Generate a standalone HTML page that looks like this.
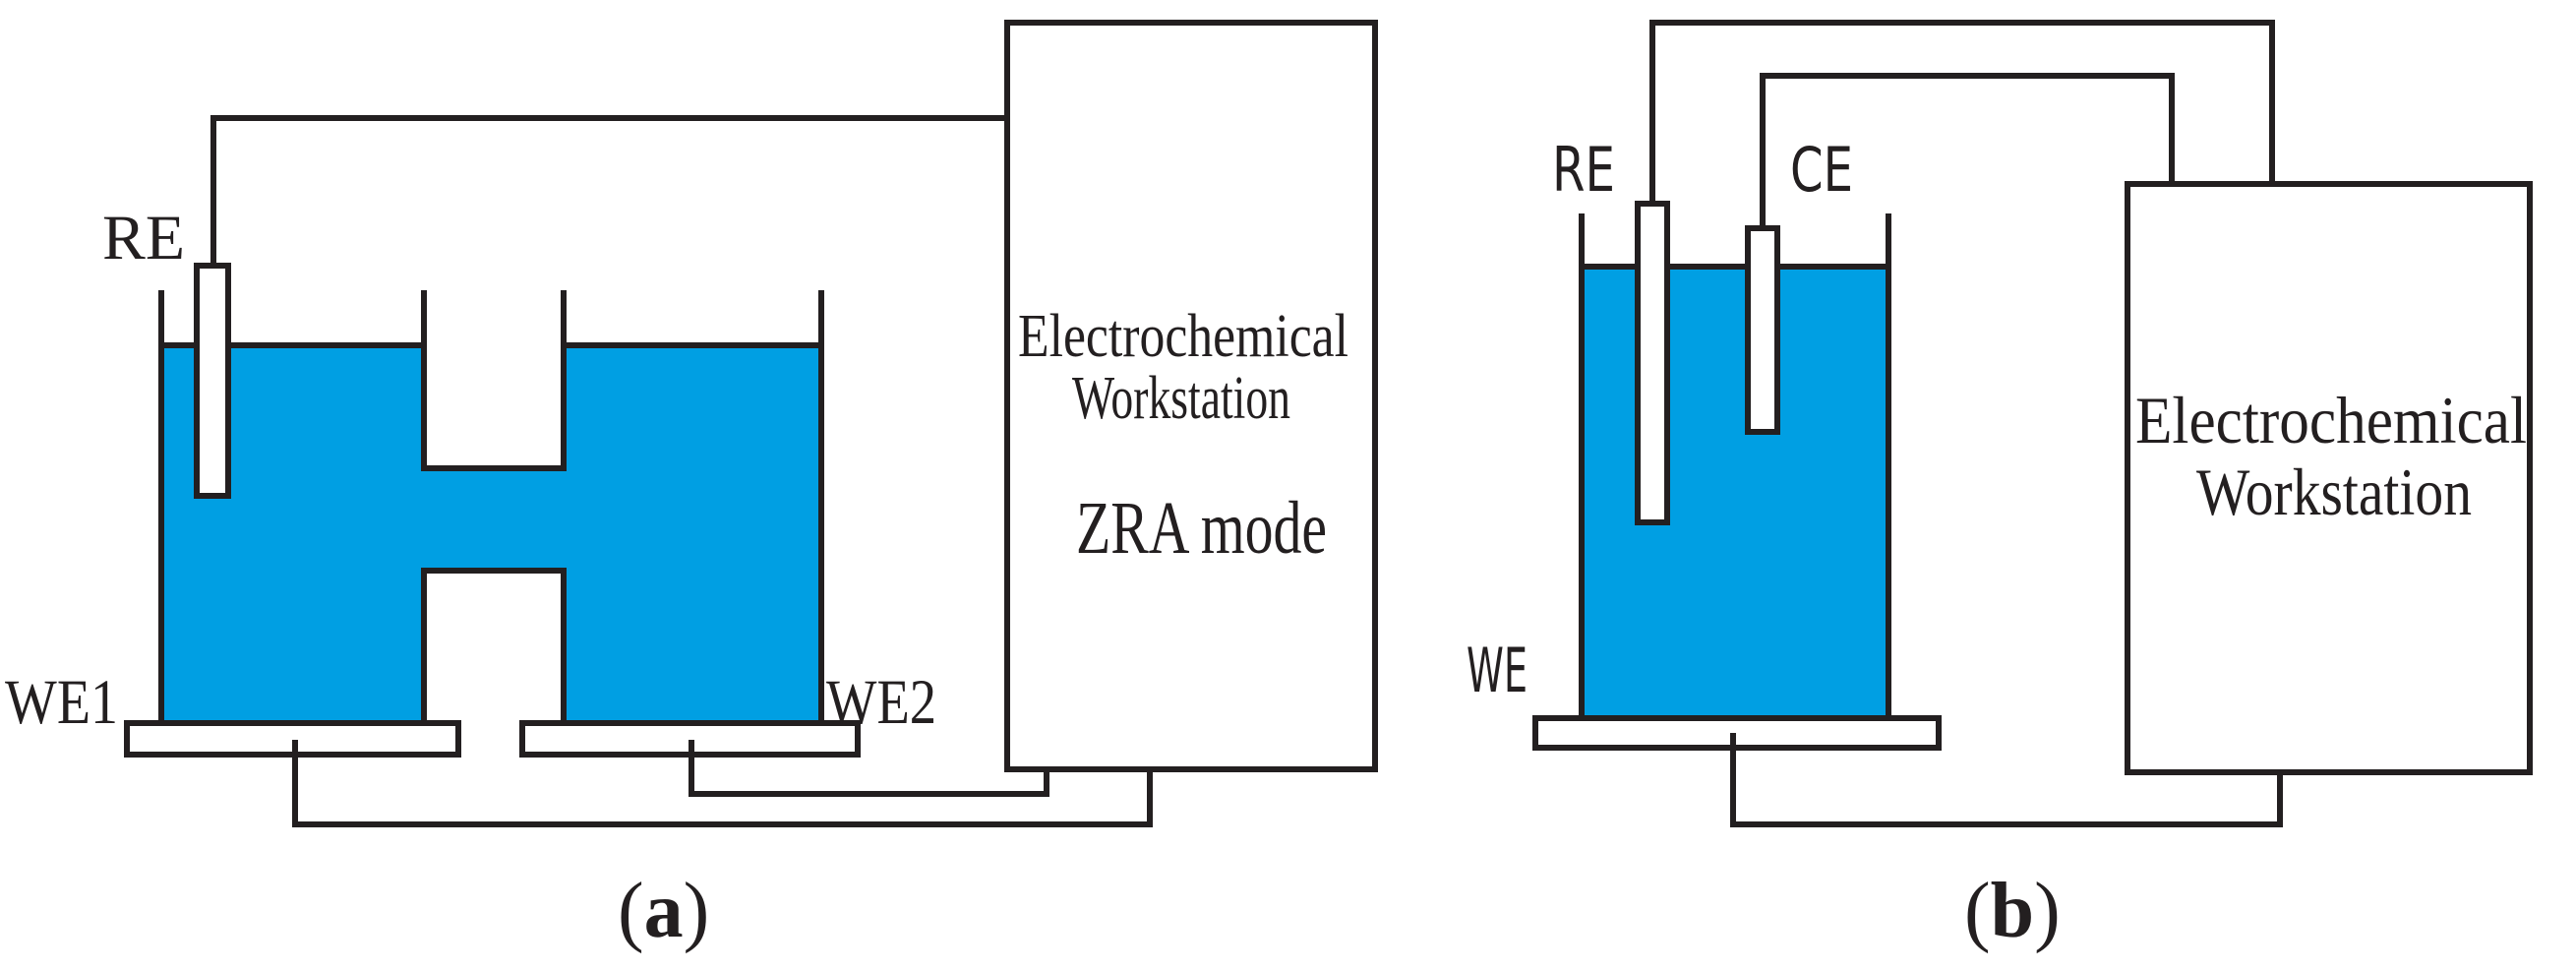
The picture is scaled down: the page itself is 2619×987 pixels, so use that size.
<!DOCTYPE html>
<html><head><meta charset="utf-8"><style>html,body{margin:0;padding:0;background:#fff}svg{display:block}</style></head>
<body>
<svg width="2619" height="987" viewBox="0 0 2619 987" xmlns="http://www.w3.org/2000/svg">
<g stroke="#231f20" stroke-width="6" fill="none" stroke-linejoin="miter">
<path d="M164,351 H431 V476 H573 V351 H835 V735 H573 V580 H431 V735 H164 Z" fill="#009fe3"/>
<line x1="164" y1="295" x2="164" y2="351"/>
<line x1="431" y1="295" x2="431" y2="351"/>
<line x1="573" y1="295" x2="573" y2="351"/>
<line x1="835" y1="295" x2="835" y2="351"/>
<rect x="200" y="270" width="32" height="234" fill="#fff"/>
<polyline points="217,270 217,120 1024,120"/>
<rect x="1024" y="23" width="374" height="759" fill="#fff"/>
<rect x="129" y="735" width="337" height="32" fill="#fff"/>
<rect x="531" y="735" width="341" height="32" fill="#fff"/>
<polyline points="300,752 300,838 1169,838 1169,782"/>
<polyline points="703,752 703,807 1064,807 1064,782"/>
<rect x="1608" y="271" width="312" height="459" fill="#009fe3"/>
<line x1="1608" y1="217" x2="1608" y2="271"/>
<line x1="1920" y1="217" x2="1920" y2="271"/>
<rect x="1665" y="207" width="30" height="324" fill="#fff"/>
<rect x="1777" y="232" width="30" height="207" fill="#fff"/>
<polyline points="1680,207 1680,23 2310,23 2310,187"/>
<polyline points="1792,232 1792,77 2208,77 2208,187"/>
<rect x="2163" y="187" width="409" height="598" fill="#fff"/>
<rect x="1561" y="730" width="410" height="30" fill="#fff"/>
<polyline points="1762,745 1762,838 2318,838 2318,785"/>
</g>
<g fill="#231f20" font-family="'Liberation Serif', serif">
<text x="104" y="263" font-size="65" textLength="84" lengthAdjust="spacingAndGlyphs">RE</text>
<text x="5" y="735" font-size="65" textLength="115" lengthAdjust="spacingAndGlyphs">WE1</text>
<text x="840" y="735" font-size="65" textLength="112" lengthAdjust="spacingAndGlyphs">WE2</text>
<text x="1035" y="362" font-size="62" textLength="336" lengthAdjust="spacingAndGlyphs">Electrochemical</text>
<text x="1090" y="425" font-size="62" textLength="222" lengthAdjust="spacingAndGlyphs">Workstation</text>
<text x="1094" y="562" font-size="76" textLength="255" lengthAdjust="spacingAndGlyphs">ZRA mode</text>
<text x="628" y="952" font-size="80">(<tspan font-weight="bold">a</tspan>)</text>
<text x="2171" y="450" font-size="68" textLength="398" lengthAdjust="spacingAndGlyphs">Electrochemical</text>
<text x="2233" y="523" font-size="68" textLength="280" lengthAdjust="spacingAndGlyphs">Workstation</text>
<text x="1997" y="952" font-size="80">(<tspan font-weight="bold">b</tspan>)</text>
</g>
<g fill="#231f20" font-family="'DejaVu Sans Condensed','DejaVu Sans', sans-serif">
<text x="1578" y="194" font-size="62" textLength="64" lengthAdjust="spacingAndGlyphs">RE</text>
<text x="1820" y="194" font-size="62" textLength="64" lengthAdjust="spacingAndGlyphs">CE</text>
<text x="1491" y="703" font-size="62" textLength="62" lengthAdjust="spacingAndGlyphs">WE</text>
</g>
</svg>
</body></html>
